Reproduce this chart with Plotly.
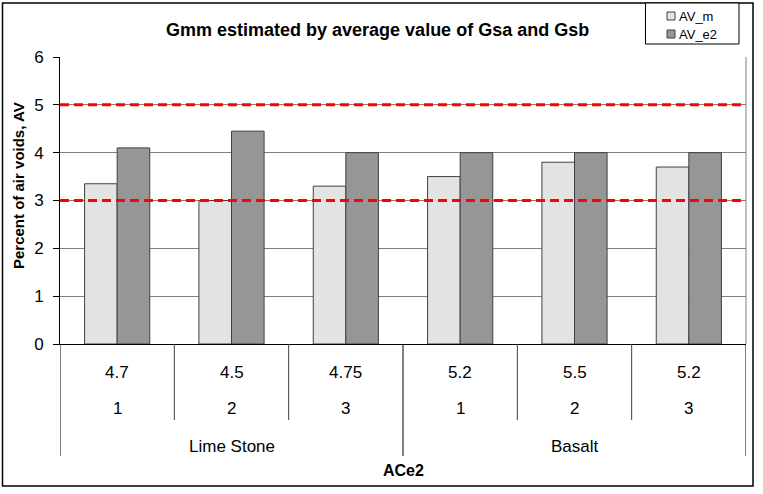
import plotly.graph_objects as go

# ---- data ----
ac_values = ["4.7", "4.5", "4.75", "5.2", "5.5", "5.2"]
replicates = ["1", "2", "3", "1", "2", "3"]
aggregates = ["Lime Stone", "Basalt"]
series_names = ["AV_m", "AV_e2"]
av_m = [3.35, 3.0, 3.3, 3.5, 3.8, 3.7]
av_e2 = [4.1, 4.45, 4.0, 4.0, 4.0, 4.0]
limits = [3, 5]

# ---- geometry helpers (pixel layout) ----
W, H = 763, 494
L, R, T, B = 60, 746, 57, 344
pw, ph = R - L, B - T

def px2paper_x(px):
    return (px - L) / pw

def py2paper_y(py):
    return (B - py) / ph

FONT = "Liberation Sans, Arial, sans-serif"
colors = ["#e3e3e3", "#969696"]
edge = "#404040"

xpos = [i + 0.5 for i in range(len(av_m))]

fig = go.Figure()
for name, vals, col in zip(series_names, [av_m, av_e2], colors):
    fig.add_trace(go.Bar(x=xpos, y=vals, name=name, showlegend=False,
                         marker=dict(color=col, line=dict(color=edge, width=1))))

for lv in limits:
    fig.add_trace(go.Scatter(x=[0, len(av_m)], y=[lv, lv], mode="lines",
                             line=dict(color="#ff0000", width=3, dash="9px,5px"),
                             showlegend=False, hoverinfo="skip"))

shapes = []
# right border of plot area
shapes.append(dict(type="line", xref="paper", yref="paper", x0=1, x1=1, y0=0, y1=1,
                   line=dict(color="#808080", width=1)))
# category separators
n = len(av_m)
for b in range(n + 1):
    major = b in (0, 3, 6)
    yb = py2paper_y(456 if major else 420)
    shapes.append(dict(type="line", xref="x", yref="paper", x0=b, x1=b, y0=0, y1=yb,
                       line=dict(color="#000000" if major else "#404040", width=1)))
# outer frame
shapes.append(dict(type="rect", xref="paper", yref="paper",
                   x0=px2paper_x(2.5), x1=px2paper_x(753), y0=py2paper_y(3), y1=py2paper_y(486),
                   line=dict(color="#000000", width=1.5)))

# legend (drawn manually to match the boxed legend)
shapes.append(dict(type="rect", xref="paper", yref="paper",
                   x0=px2paper_x(645.5), x1=px2paper_x(739), y0=py2paper_y(3), y1=py2paper_y(44),
                   line=dict(color="#000000", width=1), fillcolor="white"))
ann = []

def txt(x, y, text, size, xref="paper", bold=False, xanchor="center", angle=0):
    return dict(x=x, y=y, xref=xref, yref="paper", text=f"<b>{text}</b>" if bold else text,
                xanchor=xanchor, yanchor="middle", textangle=angle, showarrow=False,
                font=dict(family=FONT, size=size, color="#000"))

for k, (name, col) in enumerate(zip(series_names, colors)):
    cy = 16 + 18 * k
    shapes.append(dict(type="rect", xref="paper", yref="paper",
                       x0=px2paper_x(667), x1=px2paper_x(675), y0=py2paper_y(cy - 4), y1=py2paper_y(cy + 4),
                       line=dict(color=edge, width=1), fillcolor=col))
    ann.append(txt(px2paper_x(677), py2paper_y(cy), name, 13, xanchor="left"))

for i in range(n):
    ann.append(txt(xpos[i], py2paper_y(372), ac_values[i], 17, xref="x"))
    ann.append(txt(xpos[i], py2paper_y(408), replicates[i], 17, xref="x"))
for j, g in enumerate(aggregates):
    ann.append(txt(1.5 + 3 * j, py2paper_y(446), g, 17, xref="x"))
ann.append(txt(3, py2paper_y(470), "ACe2", 16, xref="x", bold=True))
ann.append(txt(px2paper_x(377), py2paper_y(30), "Gmm estimated by average value of Gsa and Gsb", 18, bold=True))
ann.append(txt(px2paper_x(18), py2paper_y(186), "Percent of air voids, AV", 15, bold=True, angle=-90))

fig.update_layout(
    width=W, height=H,
    margin=dict(l=L, r=W - R, t=T, b=H - B, autoexpand=False),
    paper_bgcolor="white", plot_bgcolor="white",
    barmode="group", bargap=0.43, bargroupgap=0,
    shapes=shapes, annotations=ann,
    showlegend=False,
    xaxis=dict(range=[0, n], showticklabels=False, showgrid=False, zeroline=False,
               showline=True, linecolor="#000", linewidth=1, ticks=""),
    yaxis=dict(range=[0, 6], dtick=1, showgrid=True, gridcolor="#808080", gridwidth=1,
               zeroline=False, showline=True, linecolor="#000", linewidth=1,
               ticks="outside", ticklen=6, tickcolor="#000", ticklabelstandoff=6,
               tickfont=dict(family=FONT, size=17, color="#000")),
)

fig.write_html("out.html")
